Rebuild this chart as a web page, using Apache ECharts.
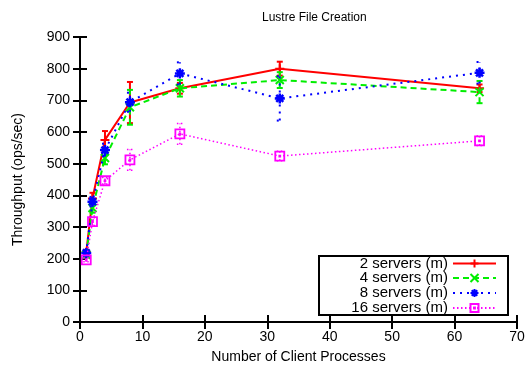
<!DOCTYPE html>
<html>
<head>
<meta charset="utf-8">
<script src="https://cdn.jsdelivr.net/npm/echarts@6/dist/echarts.min.js"></script>
<style>
  html, body { margin: 0; padding: 0; background: #fff; }
  #chart { width: 525px; height: 373px; }
</style>
</head>
<body>
<div id="chart"></div>
<script>
// client process counts
const procs = [1, 2, 4, 8, 16, 32, 64];

// throughput (ops/sec) and error half-widths
const s2 = [220, 390, 575, 693, 738, 800, 738];
const s2err = [8, 18, 28, 65, 17, 22, 12];
const s4 = [212, 360, 518, 678, 738, 764, 726];
const s4err = [8, 15, 20, 55, 26, 25, 35];
const s8 = [218, 380, 543, 694, 785, 706, 787];
const s8err = [8, 15, 20, 30, 35, 70, 34];
const s16 = [196, 317, 446, 512, 594, 524, 572];
const s16err = [6, 12, 10, 33, 33, 15, 15];

const names = ['2 servers (m)', '4 servers (m)', '8 servers (m)', '16 servers (m)'];

const FONT = 'Liberation Sans';

const styles = [
  { color: '#ff0000', dash: 'solid', width: 2,
    symbol: 'path://M0,5L10,5M5,0L5,10', size: 9, bw: 2 },
  { color: '#00ee00', dash: [6, 4], width: 2,
    symbol: 'path://M0,0L10,10M10,0L0,10', size: 8, bw: 2 },
  { color: '#0000ff', dash: [2, 5], width: 2,
    symbol: 'path://M0,5L10,5M5,0L5,10M1.5,1.5L8.5,8.5M8.5,1.5L1.5,8.5', size: 10, bw: 2.5 },
  { color: '#ff00ff', dash: [1.5, 2.5], width: 1.5,
    symbol: 'path://M0,0L10,0L10,10L0,10ZM4.5,4.5L5.5,4.5L5.5,5.5L4.5,5.5Z', size: 9, bw: 1.8 }
];

const values = [s2, s4, s8, s16];
const errs = [s2err, s4err, s8err, s16err];

const chart = echarts.init(document.getElementById('chart'));

const series = [];
values.forEach((vals, i) => {
  const st = styles[i];
  series.push({
    name: names[i],
    type: 'line',
    data: procs.map((p, k) => [p, vals[k]]),
    symbol: st.symbol,
    symbolSize: st.size,
    symbolKeepAspect: true,
    lineStyle: { color: st.color, width: st.width, type: st.dash },
    itemStyle: { color: 'rgba(0,0,0,0)', borderColor: st.color, borderWidth: st.bw },
    emphasis: { disabled: true },
    animation: false,
    z: 3 + i
  });
  series.push({
    name: names[i] + ' err',
    type: 'custom',
    data: procs.map((p, k) => [p, vals[k] - errs[i][k], vals[k] + errs[i][k]]),
    renderItem: function (params, api) {
      const x = api.value(0);
      const lo = api.coord([x, api.value(1)]);
      const hi = api.coord([x, api.value(2)]);
      const cap = 3;
      const style = { stroke: st.color, lineWidth: st.width, lineDash: st.dash === 'solid' ? null : st.dash };
      return {
        type: 'group',
        children: [
          { type: 'line', shape: { x1: lo[0], y1: lo[1], x2: hi[0], y2: hi[1] }, style: style },
          { type: 'line', shape: { x1: lo[0] - cap, y1: lo[1], x2: lo[0] + cap, y2: lo[1] }, style: style },
          { type: 'line', shape: { x1: hi[0] - cap, y1: hi[1], x2: hi[0] + cap, y2: hi[1] }, style: style }
        ]
      };
    },
    animation: false,
    silent: true,
    z: 3 + i
  });
});

const rowTops = [256, 270.5, 285.5, 300.5];
const legends = names.map((n, i) => ({
  data: [n],
  orient: 'vertical',
  right: 28,
  top: rowTops[i],
  padding: 0,
  align: 'right',
  itemWidth: 43,
  itemHeight: 10,
  selectedMode: false,
  textStyle: { fontFamily: FONT, fontSize: 15, color: '#000' }
}));

const axisCommon = {
  axisLine: { show: true, lineStyle: { color: '#000', width: 2 } },
  axisTick: { show: true, inside: true, length: 7, lineStyle: { color: '#000', width: 2 } },
  splitLine: { show: false }
};

chart.setOption({
  backgroundColor: '#fff',
  animation: false,
  title: {
    text: 'Lustre File Creation',
    left: 257,
    top: 7,
    textStyle: { fontFamily: FONT, fontSize: 12, fontWeight: 'normal', color: '#000' }
  },
  legend: legends,
  grid: {
    left: 80, right: 8, top: 37, bottom: 51,
    containLabel: false,
    outerBoundsMode: 'none'
  },
  xAxis: [
    Object.assign({
      type: 'value', min: 0, max: 70, interval: 10,
      name: 'Number of Client Processes',
      nameLocation: 'middle',
      nameGap: 28,
      nameTextStyle: { fontFamily: FONT, fontSize: 14, color: '#000' },
      axisLabel: { fontFamily: FONT, fontSize: 14, color: '#000', margin: 8 }
    }, axisCommon),
    Object.assign({
      type: 'value', min: 0, max: 70, interval: 10, position: 'top',
      axisLabel: { show: false }
    }, axisCommon)
  ],
  yAxis: [
    Object.assign({
      type: 'value', min: 0, max: 900, interval: 100,
      name: 'Throughput (ops/sec)',
      nameLocation: 'middle',
      nameGap: 55,
      nameTextStyle: { fontFamily: FONT, fontSize: 14, color: '#000' },
      axisLabel: { fontFamily: FONT, fontSize: 14, color: '#000', margin: 10 }
    }, axisCommon),
    Object.assign({
      type: 'value', min: 0, max: 900, interval: 100, position: 'right',
      axisLabel: { show: false }
    }, axisCommon)
  ],
  graphic: [{
    type: 'rect',
    shape: { x: 319, y: 256, width: 189, height: 59 },
    style: { fill: '#fff', stroke: '#000', lineWidth: 2 },
    z: 1
  }],
  series: series
});
</script>
</body>
</html>
